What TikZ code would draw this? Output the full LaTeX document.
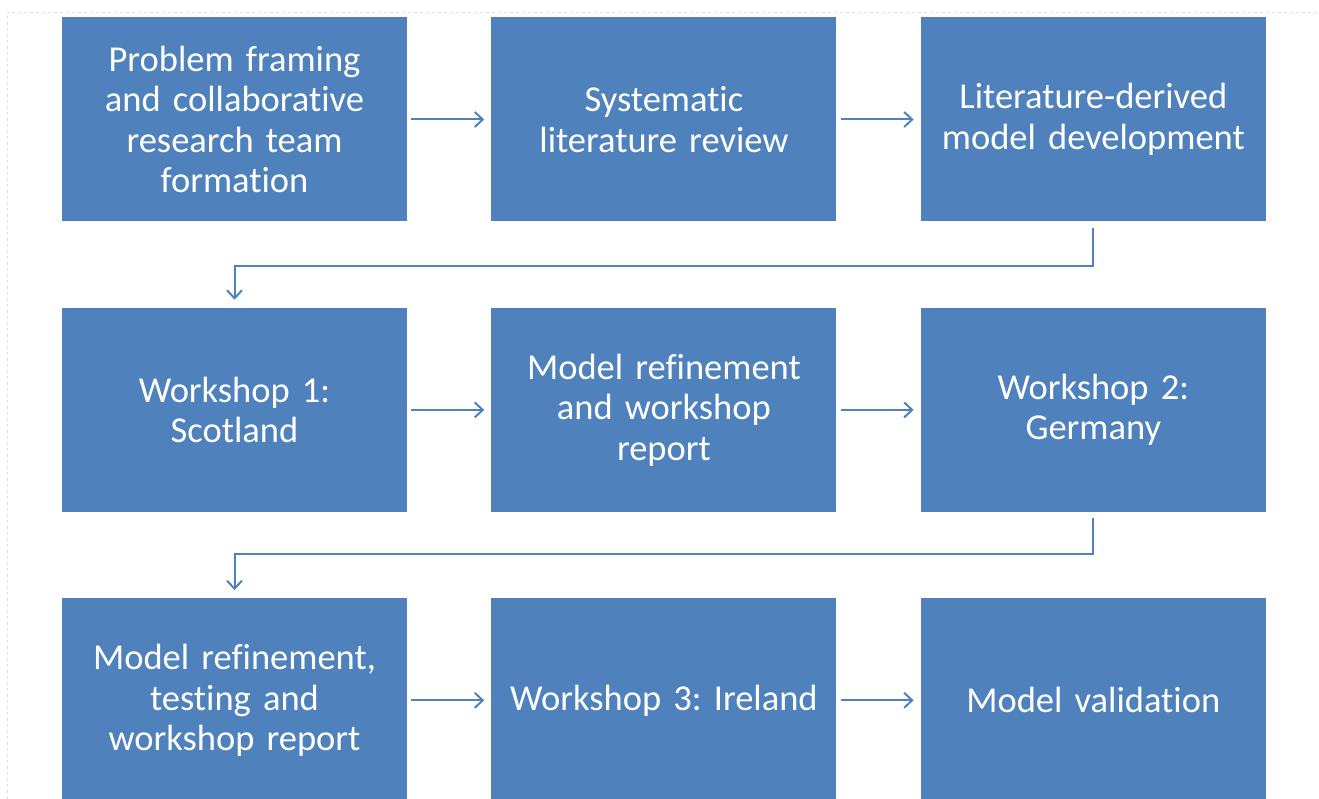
\documentclass[tikz,border=0pt]{standalone}
\usepackage{fontspec}
\setmainfont{Carlito}[Ligatures=NoCommon]
\usetikzlibrary{positioning}
\usetikzlibrary{arrows.meta}
\definecolor{boxblue}{RGB}{79,129,189}
\tikzset{>={Straight Barb[length=8pt,width=15pt]}}

\begin{document}
\frenchspacing
\begin{tikzpicture}[x=1pt, y=1pt, stage/.style={rectangle, fill=boxblue, text=white, minimum width=345pt, minimum height=204pt, text width=340pt, align=center, inner sep=0pt, font=\fontsize{36.5}{40.5}\selectfont}, link/.style={->, draw=boxblue, line width=2pt}, node distance=86pt and 84pt]

    \useasboundingbox (0,0) rectangle (1319,-799);
    \clip (0,0) rectangle (1319,-799);
    \draw[black!12, dashed] (7,-799) -- (7,-12) -- (1319,-12);

    %Nodes
    \node[stage](framing) at (234.5,-119.5){Problem framing\\and collaborative\\research team\\formation};
    \node[stage](review)[right=of framing]{Systematic\\literature review};
    \node[stage](litmodel)[right=of review]{Literature-derived\\model development};
    \node[stage](scotland)[below=of framing]{Workshop 1:\\Scotland};
    \node[stage](refine)[right=of scotland]{Model refinement\\and workshop\\report};
    \node[stage](germany)[right=of refine]{Workshop 2:\\Germany};
    \node[stage](testing)[below=of scotland]{Model refinement,\\testing and\\workshop report};
    \node[stage](ireland)[right=of testing]{Workshop 3: Ireland};
    \node[stage](validation)[right=of ireland]{Model validation};

    %Lines
    \draw[link, shorten <=4pt, shorten >=7pt] (framing.east) -- (review.west);
    \draw[link, shorten <=4pt, shorten >=7pt] (review.east) -- (litmodel.west);
    \draw[link, shorten <=6pt, shorten >=8pt] (litmodel.south) -- ++(0,-44) -| (scotland.north);
    \draw[link, shorten <=4pt, shorten >=7pt] (scotland.east) -- (refine.west);
    \draw[link, shorten <=4pt, shorten >=7pt] (refine.east) -- (germany.west);
    \draw[link, shorten <=6pt, shorten >=8pt] (germany.south) -- ++(0,-42) -| (testing.north);
    \draw[link, shorten <=4pt, shorten >=7pt] (testing.east) -- (ireland.west);
    \draw[link, shorten <=4pt, shorten >=7pt] (ireland.east) -- (validation.west);

\end{tikzpicture}
\end{document}
